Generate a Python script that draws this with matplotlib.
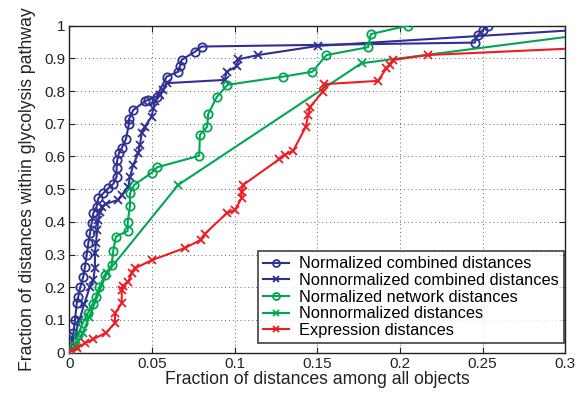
import numpy as np
import matplotlib
matplotlib.use('Agg')
import matplotlib.pyplot as plt
from matplotlib import rcParams

rcParams['font.family'] = ['Liberation Sans', 'DejaVu Sans']

BLUE  = '#2E3192'
GREEN = '#00A651'
RED   = '#ED1C24'

# ── Datos ─────────────────────────────────────────────────────────────────────
norm_comb_x = [0, 0.0023, 0.0033, 0.0044, 0.0053, 0.0065, 0.0083, 0.0094, 0.0104,
               0.0114, 0.0124, 0.0134, 0.0144, 0.0164, 0.0174, 0.0204, 0.0235,
               0.0265, 0.0285, 0.0285, 0.0289, 0.0299, 0.0316, 0.0342, 0.0360,
               0.0360, 0.0386, 0.0456, 0.0476, 0.0527, 0.0588, 0.0658, 0.0668,
               0.0678, 0.0759, 0.0799, 0.2452, 0.2472, 0.2502, 0.2532]
norm_comb_y = [0, 0.059, 0.100, 0.151, 0.171, 0.200, 0.232, 0.263, 0.299,
               0.335, 0.365, 0.396, 0.426, 0.446, 0.472, 0.487, 0.503,
               0.516, 0.538, 0.564, 0.589, 0.610, 0.625, 0.654, 0.700,
               0.714, 0.742, 0.768, 0.773, 0.783, 0.844, 0.859, 0.875,
               0.895, 0.920, 0.936, 0.948, 0.972, 0.987, 1.000]

nonnorm_comb_x = [0, 0.003, 0.006, 0.009, 0.0124, 0.0144, 0.0154, 0.0154, 0.0160,
                  0.0168, 0.0174, 0.0185, 0.0195, 0.0220, 0.0295, 0.0316, 0.0356,
                  0.0366, 0.0386, 0.0416, 0.0426, 0.0437, 0.0456, 0.0497, 0.0507,
                  0.0517, 0.0547, 0.0567, 0.0588, 0.0940, 0.0950, 0.1011, 0.1021,
                  0.1141, 0.1504, 0.35]
nonnorm_comb_y = [0, 0.05, 0.10, 0.15, 0.202, 0.222, 0.260, 0.304, 0.335,
                  0.375, 0.406, 0.430, 0.446, 0.455, 0.467, 0.482, 0.508,
                  0.538, 0.574, 0.610, 0.635, 0.671, 0.691, 0.722, 0.747,
                  0.768, 0.788, 0.803, 0.824, 0.834, 0.859, 0.875, 0.897,
                  0.910, 0.938, 1.0]

norm_net_x = [0, 0.003, 0.0053, 0.008, 0.011, 0.014, 0.016, 0.018, 0.0215, 0.0255,
              0.0265, 0.0281, 0.0352, 0.0352, 0.0366, 0.0366, 0.0392, 0.0497,
              0.0531, 0.0785, 0.0789, 0.0833, 0.0839, 0.0890, 0.0956, 0.1293,
              0.1470, 0.1555, 0.1807, 0.1823, 0.2048]
norm_net_y = [0, 0.02, 0.054, 0.09, 0.12, 0.15, 0.17, 0.20, 0.238, 0.268,
              0.312, 0.355, 0.372, 0.399, 0.449, 0.487, 0.513, 0.550,
              0.567, 0.602, 0.666, 0.691, 0.729, 0.781, 0.819, 0.844,
              0.859, 0.910, 0.934, 0.974, 1.000]

nonnorm_x = [0, 0.004, 0.008, 0.012, 0.0225, 0.0658, 0.1767, 0.354]
nonnorm_y = [0, 0.02, 0.06, 0.11, 0.243, 0.513, 0.885, 1.0]

expr_x = [0, 0.0044, 0.0094, 0.0144, 0.0221, 0.0275, 0.0275, 0.0316, 0.0316,
          0.0322, 0.0356, 0.0376, 0.0396, 0.0499, 0.0698, 0.0795, 0.0819,
          0.0950, 0.1001, 0.1041, 0.1041, 0.1051, 0.1268, 0.1303, 0.1353,
          0.1430, 0.1444, 0.1454, 0.1531, 0.1541, 0.1867, 0.1918, 0.1938,
          0.1958, 0.2169, 0.5]
expr_y = [0.003, 0.013, 0.029, 0.041, 0.061, 0.090, 0.120, 0.151, 0.192,
          0.204, 0.217, 0.243, 0.258, 0.283, 0.320, 0.345, 0.363,
          0.426, 0.436, 0.472, 0.492, 0.513, 0.591, 0.605, 0.617,
          0.691, 0.727, 0.750, 0.798, 0.821, 0.831, 0.870, 0.880,
          0.895, 0.910, 0.975]

SERIES = [
    (norm_comb_x,    norm_comb_y,    BLUE,  'o', 'Normalized combined distances'),
    (nonnorm_comb_x, nonnorm_comb_y, BLUE,  'x', 'Nonnormalized combined distances'),
    (norm_net_x,     norm_net_y,     GREEN, 'o', 'Normalized network distances'),
    (nonnorm_x,      nonnorm_y,      GREEN, 'x', 'Nonnormalized distances'),
    (expr_x,         expr_y,         RED,   'x', 'Expression distances'),
]

fig = plt.figure(figsize=(5.84, 3.94), dpi=100)
ax = fig.add_axes([0.119, 0.105, 0.849, 0.830])

for xs, ys, col, mk, lab in SERIES:
    ax.plot(xs, ys, color=col, marker=mk, markersize=6, markerfacecolor='none',
            markeredgewidth=1.3, linewidth=1.5, label=lab, zorder=3)

ax.set_xlim(0, 0.3)
ax.set_ylim(0, 1)
ax.set_xticks(np.arange(0, 0.31, 0.05))
ax.set_xticklabels(['0', '0.05', '0.1', '0.15', '0.2', '0.25', '0.3'])
ax.set_yticks(np.arange(0, 1.01, 0.1))
ax.set_yticklabels(['0', '0.1', '0.2', '0.3', '0.4', '0.5', '0.6', '0.7', '0.8', '0.9', '1'])
ax.tick_params(direction='in', top=True, right=True, labelsize=11, length=4, width=0.8,
               colors='#222222', pad=3)
ax.grid(True, linestyle=(0, (1, 3)), linewidth=0.7, color='#666666')
for sp in ax.spines.values():
    sp.set_linewidth(1.0)
    sp.set_color('#222222')

ax.set_xlabel('Fraction of distances among all objects', fontsize=12.7, labelpad=0,
              color='#222222')
ax.set_ylabel('Fraction of distances within glycolysis pathway', fontsize=12.7,
              labelpad=6, color='#222222')

leg = ax.legend(loc='lower right', bbox_to_anchor=(0.997, 0.03), fontsize=11.8,
                frameon=True, fancybox=False, edgecolor='#111111',
                handlelength=1.6, borderpad=0.3, labelspacing=0.1,
                handletextpad=0.6, borderaxespad=0.0)
leg.get_frame().set_linewidth(1.2)
for h in leg.get_lines():
    h.set_markersize(5)

fig.savefig('out.png', dpi=100)
